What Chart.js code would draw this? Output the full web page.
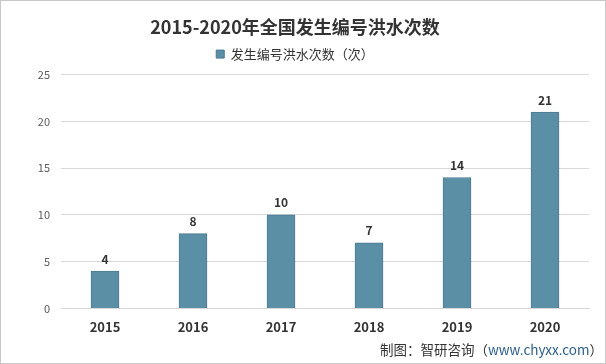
<!DOCTYPE html>
<html>
<head>
<meta charset="utf-8">
<script src="https://cdn.jsdelivr.net/npm/chart.js@4"></script>
<style>
  html, body { margin: 0; padding: 0; background: #fff; }
  #wrap { position: relative; width: 606px; height: 364px; box-sizing: border-box; border: 1px solid #c8c8c8; }
  #chart { position: absolute; left: 0; top: 0; }
  #source { position: absolute; right: 2px; bottom: 4px; font: 13.5px "Noto Sans CJK SC", sans-serif; color: #333; }
  #source span { color: #2e5f8a; }
</style>
</head>
<body>
<div id="wrap">
  <canvas id="chart" width="604" height="362"></canvas>
  <div id="source">制图：智研咨询（<span>www.chyxx.com</span>）</div>
</div>
<script>
const years = ['2015', '2016', '2017', '2018', '2019', '2020'];
const floodCounts = [4, 8, 10, 7, 14, 21];
const seriesName = '发生编号洪水次数（次）';
const yTicks = [0, 5, 10, 15, 20, 25];

const valueLabels = {
  id: 'valueLabels',
  afterDatasetsDraw(chart) {
    const { ctx } = chart;
    const meta = chart.getDatasetMeta(0);
    ctx.save();
    ctx.font = 'bold 12px "Noto Sans CJK SC", sans-serif';
    ctx.fillStyle = '#333';
    ctx.textAlign = 'center';
    ctx.textBaseline = 'bottom';
    meta.data.forEach((bar, i) => {
      ctx.fillText(floodCounts[i], bar.x, bar.y - 6);
    });
    ctx.restore();
  }
};

// a bit more room under the legend
const legendSpace = {
  id: 'legendSpace',
  beforeInit(chart) {
    const fit = chart.legend.fit;
    chart.legend.fit = function () {
      fit.bind(chart.legend)();
      this.height += 4;
    };
  }
};

new Chart(document.getElementById('chart').getContext('2d'), {
  type: 'bar',
  data: {
    labels: years,
    datasets: [{
      label: seriesName,
      data: floodCounts,
      backgroundColor: '#5b8fa6',
      borderColor: '#4a7a91',
      borderWidth: 1,
      barThickness: 28
    }]
  },
  options: {
    responsive: false,
    animation: false,
    layout: { padding: { left: 0, right: 16, top: 8, bottom: 25 } },
    scales: {
      x: {
        grid: { display: false },
        border: { color: '#d9d9d9' },
        ticks: { color: '#333', font: { size: 13, weight: 'bold', family: '"Noto Sans CJK SC", sans-serif' }, padding: 3 }
      },
      y: {
        min: 0,
        max: 25,
        afterBuildTicks: axis => { axis.ticks = yTicks.map(v => ({ value: v })); },
        grid: { color: '#d9d9d9', drawTicks: false },
        border: { display: false },
        ticks: { color: '#595959', font: { size: 11, family: '"Noto Sans CJK SC", sans-serif' }, padding: 11 },
        afterFit: axis => { axis.width = 60; }
      }
    },
    plugins: {
      title: {
        display: true,
        text: '2015-2020年全国发生编号洪水次数',
        color: '#333',
        font: { size: 18, weight: 'bold', family: '"Noto Sans CJK SC", sans-serif' },
        padding: { top: 7, bottom: 0 }
      },
      legend: {
        labels: {
          color: '#333',
          boxWidth: 8,
          boxHeight: 8,
          font: { size: 13, family: '"Noto Sans CJK SC", sans-serif' }
        }
      },
      tooltip: { enabled: false }
    }
  },
  plugins: [valueLabels, legendSpace]
});
</script>
</body>
</html>
